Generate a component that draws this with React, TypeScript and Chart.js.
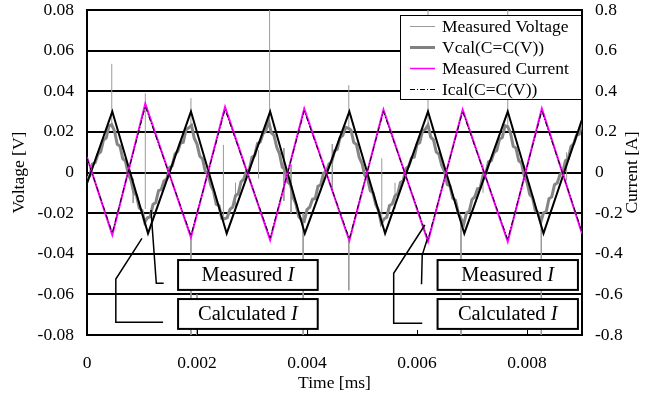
import React, { useEffect, useRef } from 'react';
import { Chart, registerables } from 'chart.js';
Chart.register(...registerables);

const FONT = "'Liberation Serif', 'Times New Roman', serif";
const FS = 17.5;
const BOX_FS = 20.5;

// ---- tick values / labels ----
const X_TICKS = [0, 0.002, 0.004, 0.006, 0.008];
const X_LABELS = ['0', '0.002', '0.004', '0.006', '0.008'];
const V_TICKS = [-0.08, -0.06, -0.04, -0.02, 0, 0.02, 0.04, 0.06, 0.08];
const V_LABELS = ['-0.08', '-0.06', '-0.04', '-0.02', '0', '0.02', '0.04', '0.06', '0.08'];
const A_TICKS = [-0.8, -0.6, -0.4, -0.2, 0, 0.2, 0.4, 0.6, 0.8];
const A_LABELS = ['-0.8', '-0.6', '-0.4', '-0.2', '0', '0.2', '0.4', '0.6', '0.8'];

// ---- Measured Voltage (sampled every 0.00005 ms from 0) ----
const MV_T0 = 0;
const MV_DT = 0.00005;
const MV_V = [
  -0.0028, -0.0018, 0.0042, 0.0049, 0.0091, 0.0103, 0.0160, 0.0170, 0.0230, 0.0235,
  0.0205, 0.0139, 0.0130, 0.0068, 0.0056, -0.0008, -0.0038, -0.0098, -0.0113, -0.0175,
  -0.0187, -0.0245, -0.0223, -0.0218, -0.0157, -0.0148, -0.0090, -0.0083, -0.0042, -0.0032,
  0.0024, 0.0033, 0.0091, 0.0104, 0.0145, 0.0149, 0.0211, 0.0220, 0.0232, 0.0169,
  0.0140, 0.0081, 0.0067, 0.0006, -0.0005, -0.0062, -0.0091, -0.0156, -0.0164, -0.0225,
  -0.0228, -0.0222, -0.0181, -0.0170, -0.0114, -0.0105, -0.0046, -0.0033, 0.0008, 0.0013,
  0.0075, 0.0084, 0.0143, 0.0150, 0.0192, 0.0203, 0.0257, 0.0196, 0.0183, 0.0124,
  0.0093, 0.0026, 0.0016, -0.0047, -0.0060, -0.0125, -0.0156, -0.0217, -0.0233, -0.0240,
  -0.0183, -0.0171, -0.0132, -0.0128, -0.0068, -0.0060, -0.0003, 0.0003, 0.0042, 0.0052,
  0.0106, 0.0114, 0.0171, 0.0183, 0.0222, 0.0218, 0.0209, 0.0148, 0.0137, 0.0074,
  0.0045, -0.0014, -0.0028, -0.0089, -0.0100, -0.0157, -0.0186, -0.0251, -0.0229, -0.0221,
  -0.0162, -0.0155, -0.0115, -0.0104, -0.0049, -0.0040, 0.0019, 0.0031, 0.0072, 0.0076,
  0.0138, 0.0147, 0.0205, 0.0212, 0.0233, 0.0174, 0.0161, 0.0101, 0.0090, 0.0034,
  0.0006, -0.0059, -0.0066, -0.0126, -0.0137, -0.0199, -0.0227, -0.0254, -0.0199, -0.0191,
  -0.0133, -0.0120, -0.0080, -0.0076, -0.0015, -0.0006, 0.0052, 0.0058, 0.0098, 0.0109,
  0.0164, 0.0172, 0.0230, 0.0225, 0.0195, 0.0129, 0.0120, 0.0058, 0.0046, -0.0018,
  -0.0048, -0.0108, -0.0123, -0.0185, -0.0197, -0.0245, -0.0198, -0.0192, -0.0129, -0.0120,
  -0.0060, -0.0052, -0.0010, 0.0002, 0.0058, 0.0068, 0.0128, 0.0142, 0.0183, 0.0189,
  0.0252,
];

// ---- switching spikes in the measured voltage: time, from, to ----
const SPIKE_T = [0.00045, 0.00084, 0.00106, 0.00189, 0.00189, 0.00200, 0.00248, 0.00270, 0.00312, 0.00332,
  0.00358, 0.00371, 0.00393, 0.00401, 0.00446, 0.00476, 0.00476, 0.00536, 0.00560, 0.00620,
  0.00680, 0.00720, 0.00765, 0.00826, 0.00872];
const SPIKE_FROM = [0.022, -0.003, -0.018, 0.022, -0.031, -0.060, -0.022, -0.020, -0.003, 0.022,
  0.012, 0.004, -0.020, -0.062, 0.014, 0.021, -0.033, -0.0227, -0.018, 0.022,
  -0.022, -0.010, 0.022, -0.024, -0.004];
const SPIKE_TO = [0.0535, -0.015, 0.039, 0.0366, -0.085, -0.085, 0.0136, -0.005, 0.011, 0.085,
  -0.014, -0.020, -0.085, -0.085, -0.008, 0.043, -0.058, 0.007, -0.005, 0.085,
  -0.085, 0.004, 0.085, -0.085, 0.010];

// ---- Vcal(C=C(V)) ----
const VCAL_T = [0, 0.00046, 0.00111, 0.00189, 0.00254, 0.00333, 0.00396, 0.00477, 0.00542, 0.00620, 0.00686, 0.00765, 0.00830, 0.009];
const VCAL_V = [-0.0054, 0.030, -0.030, 0.030, -0.030, 0.030, -0.030, 0.030, -0.030, 0.030, -0.030, 0.030, -0.030, 0.026];

// ---- Measured Current / Ical (A) ----
const CUR_T = [0, 0.00046, 0.00106, 0.00189, 0.00251, 0.00333, 0.00395, 0.00477, 0.00539, 0.00620, 0.00683, 0.00765, 0.00827, 0.009];
const CUR_A = [0.075, -0.307, 0.338, -0.319, 0.322, -0.332, 0.314, -0.335, 0.309, -0.340, 0.309, -0.340, 0.314, -0.300];
const ICAL_A = [0.070, -0.297, 0.325, -0.310, 0.310, -0.322, 0.303, -0.326, 0.300, -0.330, 0.300, -0.330, 0.304, -0.292];

// ---- callouts (data coordinates) ----
const BOXES = [
  { t0: 0.001656, t1: 0.004195, v0: -0.0431, v1: -0.0578, text: 'Measured ' },
  { t0: 0.001656, t1: 0.004195, v0: -0.0623, v1: -0.0770, text: 'Calculated ' },
  { t0: 0.006374, t1: 0.008926, v0: -0.0431, v1: -0.0578, text: 'Measured ' },
  { t0: 0.006374, t1: 0.008926, v0: -0.0623, v1: -0.0770, text: 'Calculated ' },
];
const POINTERS: number[][][] = [
  [[0.001394, -0.05455], [0.00126, -0.05455], [0.001163, -0.01846]],
  [[0.001383, -0.07375], [0.000524, -0.07375], [0.000524, -0.05243], [0.000999, -0.03239]],
  [[0.006082, -0.05504], [0.006095, -0.04062], [0.006186, -0.03289]],
  [[0.006095, -0.07424], [0.005576, -0.07424], [0.005576, -0.04962], [0.006143, -0.02585]],
];

const LEGEND_SAMPLES = [
  { color: '#9a9a9a', width: 1, dash: [] as number[] },
  { color: '#808080', width: 3, dash: [] as number[] },
  { color: '#ff00ff', width: 1.5, dash: [] as number[] },
  { color: '#000000', width: 1, dash: [5, 2, 1, 2] },
];

const calloutPlugin = {
  id: 'callouts',
  afterDatasetsDraw(chart: any) {
    const ctx = chart.ctx;
    const xs = chart.scales.x;
    const ys = chart.scales.y;
    const X = (t: number) => xs.getPixelForValue(t);
    const Y = (v: number) => ys.getPixelForValue(v);
    ctx.save();
    ctx.strokeStyle = '#000';
    ctx.lineWidth = 1.5;
    for (const p of POINTERS) {
      ctx.beginPath();
      p.forEach(([t, v], i) => (i ? ctx.lineTo(X(t), Y(v)) : ctx.moveTo(X(t), Y(v))));
      ctx.stroke();
    }
    for (const b of BOXES) {
      const x0 = X(b.t0), x1 = X(b.t1), y0 = Y(b.v0), y1 = Y(b.v1);
      ctx.fillStyle = '#fff';
      ctx.fillRect(x0, y0, x1 - x0, y1 - y0);
      ctx.lineWidth = 2;
      ctx.strokeRect(x0, y0, x1 - x0, y1 - y0);
      ctx.fillStyle = '#000';
      ctx.textBaseline = 'middle';
      ctx.textAlign = 'left';
      ctx.font = `${BOX_FS}px ${FONT}`;
      const w1 = ctx.measureText(b.text).width;
      ctx.font = `italic ${BOX_FS}px ${FONT}`;
      const w2 = ctx.measureText('I').width;
      const sx = (x0 + x1) / 2 - (w1 + w2) / 2;
      const cy = (y0 + y1) / 2 + 1;
      ctx.font = `${BOX_FS}px ${FONT}`;
      ctx.fillText(b.text, sx, cy);
      ctx.font = `italic ${BOX_FS}px ${FONT}`;
      ctx.fillText('I', sx + w1, cy);
    }
    // legend
    const ca = chart.chartArea;
    const lx = ca.right - 182, ly = ca.top + 5, lw = 181, lh = 84;
    ctx.fillStyle = '#fff';
    ctx.fillRect(lx, ly, lw, lh);
    ctx.lineWidth = 1;
    ctx.strokeStyle = '#000';
    ctx.strokeRect(lx + 0.5, ly + 0.5, lw, lh);
    const labels = chart.data.datasets.filter((d: any) => d.label).map((d: any) => d.label);
    labels.forEach((lab: string, i: number) => {
      const s = LEGEND_SAMPLES[i];
      const cy = ly + 11.5 + i * 21;
      ctx.beginPath();
      ctx.setLineDash(s.dash);
      ctx.strokeStyle = s.color;
      ctx.lineWidth = s.width;
      ctx.moveTo(lx + 10, cy);
      ctx.lineTo(lx + 35, cy);
      ctx.stroke();
      ctx.setLineDash([]);
      ctx.fillStyle = '#000';
      ctx.font = `${FS}px ${FONT}`;
      ctx.textAlign = 'left';
      ctx.textBaseline = 'middle';
      ctx.fillText(lab, lx + 42, cy + 1);
    });
    ctx.restore();
  },
  afterDraw(chart: any) {
    const ctx = chart.ctx;
    const ca = chart.chartArea;
    const xs = chart.scales.x;
    ctx.save();
    ctx.strokeStyle = '#000';
    ctx.lineWidth = 1;
    for (const t of X_TICKS) {
      const x = Math.round(xs.getPixelForValue(t)) + 0.5;
      ctx.beginPath();
      ctx.moveTo(x, ca.bottom);
      ctx.lineTo(x, ca.bottom - 5);
      ctx.stroke();
    }
    ctx.fillStyle = '#000';
    ctx.font = `${FS}px ${FONT}`;
    ctx.textAlign = 'center';
    ctx.textBaseline = 'middle';
    ctx.fillText('Time [ms]', (ca.left + ca.right) / 2, 383);
    const mid = (ca.top + ca.bottom) / 2;
    ctx.save();
    ctx.translate(19, mid);
    ctx.rotate(-Math.PI / 2);
    ctx.fillText('Voltage [V]', 0, 0);
    ctx.restore();
    ctx.save();
    ctx.translate(632, mid);
    ctx.rotate(-Math.PI / 2);
    ctx.fillText('Current [A]', 0, 0);
    ctx.restore();
    ctx.restore();
  },
};

export default function App() {
  const ref = useRef<HTMLCanvasElement>(null);
  useEffect(() => {
    const mv = MV_V.map((v, i) => ({ x: +(MV_T0 + i * MV_DT).toFixed(5), y: v }));
    const spikes: { x: number; y: number | null }[] = [];
    SPIKE_T.forEach((t, i) => {
      spikes.push({ x: t, y: SPIKE_FROM[i] }, { x: t, y: SPIKE_TO[i] }, { x: t, y: null });
    });
    const vcal = VCAL_T.map((t, i) => ({ x: t, y: VCAL_V[i] }));
    const cur = CUR_T.map((t, i) => ({ x: t, y: CUR_A[i] }));
    const ical = CUR_T.map((t, i) => ({ x: t, y: ICAL_A[i] }));
    const tickFont = { family: FONT, size: FS };
    const noVPad = (s: any, w: number) => { s.width = w; s.paddingTop = 0; s.paddingBottom = 0; };
    const chart = new Chart(ref.current!, {
      type: 'line',
      data: {
        datasets: [
          { label: 'Measured Voltage', data: mv, yAxisID: 'y', borderColor: '#858585', borderWidth: 3, pointRadius: 0, order: 4 },
          { label: 'Vcal(C=C(V))', data: vcal, yAxisID: 'y', borderColor: '#000', borderWidth: 2, pointRadius: 0, order: 3 },
          { label: 'Measured Current', data: cur, yAxisID: 'y1', borderColor: '#ff00ff', borderWidth: 2, pointRadius: 0, order: 2 },
          { label: 'Ical(C=C(V))', data: ical, yAxisID: 'y1', borderColor: '#000', borderWidth: 1, borderDash: [5, 2, 1, 2], pointRadius: 0, order: 1 },
          { label: '', data: spikes, yAxisID: 'y', borderColor: '#9a9a9a', borderWidth: 1, pointRadius: 0, spanGaps: false, order: 5 },
        ] as any,
      },
      options: {
        responsive: false,
        animation: false,
        devicePixelRatio: 1,
        layout: { padding: { top: 10, left: 0, right: 0, bottom: 0 } },
        plugins: { legend: { display: false }, tooltip: { enabled: false } },
        elements: { line: { tension: 0 } },
        scales: {
          x: {
            type: 'linear', min: 0, max: 0.009,
            afterBuildTicks: (s: any) => { s.ticks = X_TICKS.map((v) => ({ value: v })); },
            afterFit: (s: any) => { s.height = 58; s.paddingLeft = 0; s.paddingRight = 0; },
            ticks: { callback: (_v: any, i: number) => X_LABELS[i], font: tickFont, color: '#000', padding: 18, maxRotation: 0, autoSkip: false },
            grid: { drawOnChartArea: false, drawTicks: false },
            border: { color: '#000', width: 2 },
          },
          y: {
            type: 'linear', position: 'left', min: -0.08, max: 0.08,
            afterBuildTicks: (s: any) => { s.ticks = V_TICKS.map((v) => ({ value: v })); },
            afterFit: (s: any) => noVPad(s, 87),
            ticks: { callback: (_v: any, i: number) => V_LABELS[i], font: tickFont, color: '#000', padding: 13, autoSkip: false },
            grid: { color: '#000', lineWidth: 2, drawTicks: false },
            border: { color: '#000', width: 2 },
          },
          y1: {
            type: 'linear', position: 'right', min: -0.8, max: 0.8,
            afterBuildTicks: (s: any) => { s.ticks = A_TICKS.map((v) => ({ value: v })); },
            afterFit: (s: any) => noVPad(s, 78),
            ticks: { callback: (_v: any, i: number) => A_LABELS[i], font: tickFont, color: '#000', padding: 13, autoSkip: false },
            grid: { drawOnChartArea: false, drawTicks: false },
            border: { color: '#000', width: 2 },
          },
        },
      } as any,
      plugins: [calloutPlugin],
    });
    return () => chart.destroy();
  }, []);
  return (
    <div style={{ position: 'absolute', left: 0, top: 0, width: 660, height: 393, background: '#fff' }}>
      <canvas ref={ref} width={660} height={393} style={{ display: 'block' }} />
    </div>
  );
}
